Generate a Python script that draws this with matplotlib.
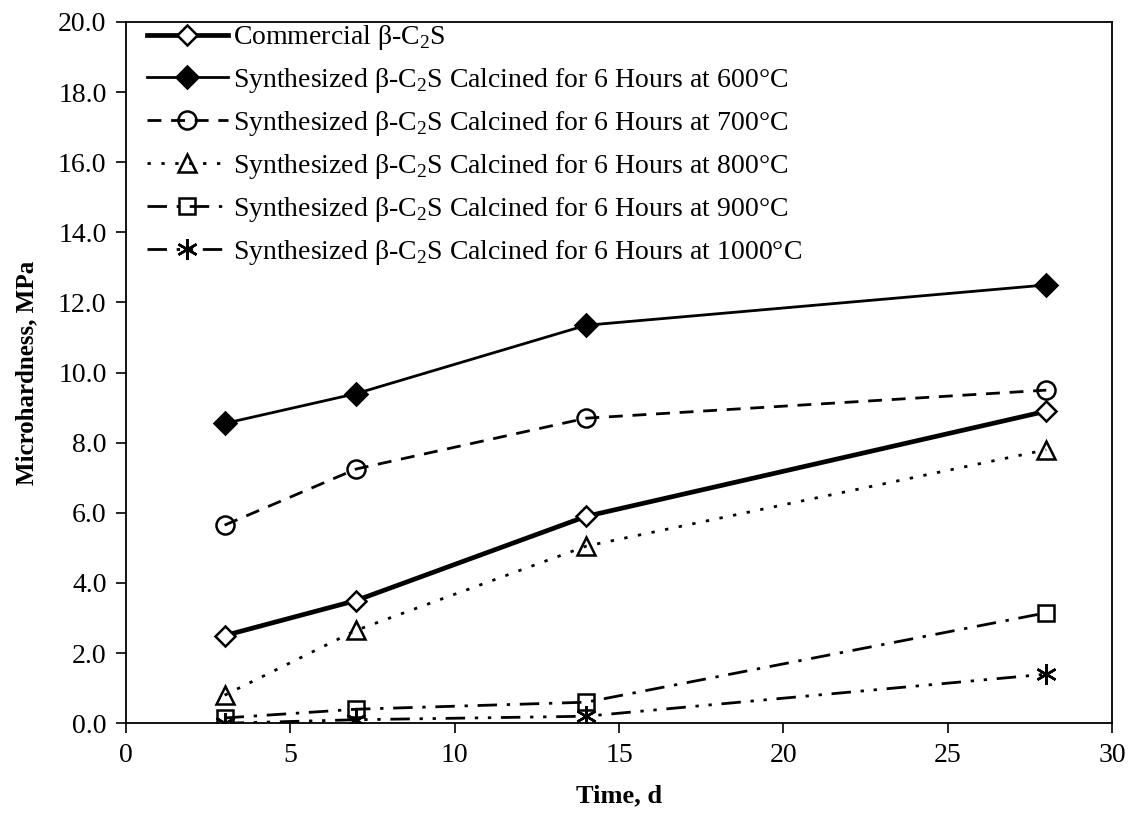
import matplotlib
matplotlib.use("Agg")
import matplotlib.pyplot as plt

plt.rcParams['font.family'] = ['Liberation Serif', 'DejaVu Serif']
plt.rcParams['mathtext.fontset'] = 'custom'
plt.rcParams['mathtext.rm'] = 'Liberation Serif'

days = [3, 7, 14, 28]
commercial = [2.5, 3.5, 5.9, 8.9]
calc_600 = [8.55, 9.4, 11.35, 12.5]
calc_700 = [5.65, 7.25, 8.7, 9.5]
calc_800 = [0.8, 2.65, 5.05, 7.8]
calc_900 = [0.15, 0.4, 0.6, 3.15]
calc_1000 = [0.0, 0.1, 0.2, 1.4]

c2s = 'β-C$_\\mathregular{2}$S'
labels = [
    'Commercial ' + c2s,
    'Synthesized ' + c2s + ' Calcined for 6 Hours at 600°C',
    'Synthesized ' + c2s + ' Calcined for 6 Hours at 700°C',
    'Synthesized ' + c2s + ' Calcined for 6 Hours at 800°C',
    'Synthesized ' + c2s + ' Calcined for 6 Hours at 900°C',
    'Synthesized ' + c2s + ' Calcined for 6 Hours at 1000°C',
]
x_ticks = [0, 5, 10, 15, 20, 25, 30]
y_ticks = [0, 2, 4, 6, 8, 10, 12, 14, 16, 18, 20]

fig = plt.figure(figsize=(11.28, 8.14), dpi=100)
ax = fig.add_axes([0.1117, 0.1115, 0.8741, 0.8615])

common = dict(color='black', markeredgecolor='black', markeredgewidth=1.8)

ax.plot(days, commercial, marker='D', markersize=10, markerfacecolor='white',
        linewidth=3.4, linestyle='-', label=labels[0], **common)
ax.plot(days, calc_600, marker='D', markersize=11, markerfacecolor='black',
        linewidth=2.0, linestyle='-', label=labels[1], **common)
ax.plot(days, calc_700, marker='o', markersize=13, markerfacecolor='none',
        linewidth=2.0, linestyle=(0, (5, 3.5)), label=labels[2], **common)
ax.plot(days, calc_800, marker='^', markersize=13, markerfacecolor='none',
        linewidth=2.0, linestyle=(0, (1.2, 3.8)), label=labels[3], **common)
ax.plot(days, calc_900, marker='s', markersize=12, markerfacecolor='none',
        linewidth=2.0, linestyle=(0, (7, 3.5, 1.2, 3.5)), label=labels[4], **common)
ax.plot(days, calc_1000, marker=(6, 2, 0), markersize=15, markerfacecolor='none',
        linewidth=2.0, linestyle=(0, (7, 3.5, 1.2, 3.5, 1.2, 3.5)), label=labels[5], **common)

ax.set_xlim(0, 30)
ax.set_ylim(0, 20)
ax.set_xticks(x_ticks)
ax.set_yticks(y_ticks)
ax.set_xticklabels([str(v) for v in x_ticks])
ax.set_yticklabels([f'{v:.1f}' for v in y_ticks])
ax.tick_params(axis='both', direction='out', length=7, width=1.2, labelsize=20,
               colors='black', pad=7)
for s in ax.spines.values():
    s.set_linewidth(1.3)
    s.set_color('black')

ax.set_xlabel('Time, d', fontsize=19, fontweight='bold', labelpad=12)
ax.set_ylabel('Microhardness, MPa', fontsize=18, fontweight='bold', labelpad=14)

leg = ax.legend(loc='upper left', frameon=False, fontsize=20, handlelength=2.9,
                handletextpad=0.2, labelspacing=0.5, borderaxespad=0.0,
                bbox_to_anchor=(0.01, 1.014))

fig.savefig('out.png', dpi=100)
